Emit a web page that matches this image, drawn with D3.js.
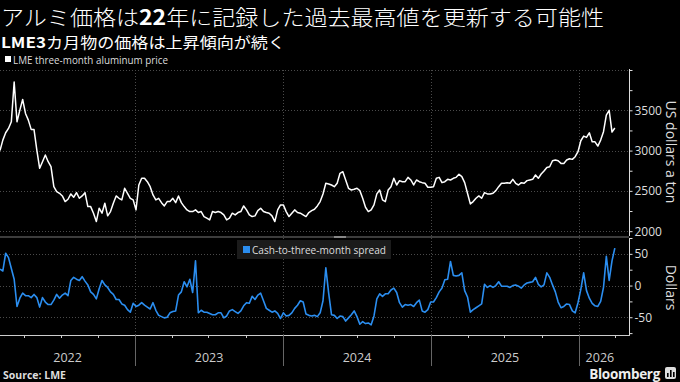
<!DOCTYPE html>
<html>
<head>
<meta charset="utf-8">
<script src="https://cdn.jsdelivr.net/npm/d3@7"></script>
<style>
html,body{margin:0;padding:0;background:#000;}
svg{display:block;}
</style>
</head>
<body>
<div id="chart"></div>
<script>
// ---------- DATA ----------
const titleParts = [["アルミ価格は", false], ["22", true], ["年に記録した過去最高値を更新する可能性", false]];
const subtitleParts = [["LME3", true], ["カ月物の価格は上昇傾向が続く", false]];
const priceLabel = "LME three-month aluminum price";
const spreadLabel = "Cash-to-three-month spread";
const priceAxisTitle = "US dollars a ton";
const spreadAxisTitle = "Dollars";
const sourceText = "Source: LME";
const years = [2022, 2023, 2024, 2025, 2026];
const priceTicks = [2000, 2500, 3000, 3500];
const spreadTicks = [-50, 0, 50];
const startDate = "2022-02-01"; // first weekly observation

// LME three-month aluminum price (weekly, USD/t)
const priceValues = [
3000,3130,3221,3275,3357,3850,3357,3502,3634,3461,3378,3263,3263,3006,2780,2862,2945,2862,2800,2552,
2490,2470,2437,2367,2396,2462,2421,2478,2408,2437,2478,2305,2305,2223,2119,2285,2223,2347,2190,2243,
2347,2437,2408,2388,2532,2470,2408,2388,2264,2573,2656,2656,2614,2552,2449,2388,2408,2354,2313,2367,
2367,2408,2354,2437,2354,2305,2264,2243,2243,2264,2231,2243,2181,2161,2140,2243,2231,2243,2231,2202,
2140,2161,2223,2202,2231,2243,2313,2264,2202,2181,2190,2255,2285,2243,2231,2223,2190,2119,2264,2326,
2326,2243,2181,2223,2264,2231,2223,2202,2181,2231,2255,2272,2313,2367,2462,2594,2586,2573,2552,2594,
2718,2738,2635,2532,2511,2520,2532,2503,2408,2297,2243,2264,2326,2462,2511,2388,2367,2511,2552,2656,
2573,2627,2614,2614,2668,2635,2573,2635,2614,2602,2594,2545,2545,2552,2656,2668,2602,2614,2643,2635,
2656,2668,2706,2676,2602,2470,2338,2367,2408,2437,2408,2478,2462,2462,2470,2503,2552,2594,2594,2602,
2594,2643,2594,2573,2602,2594,2627,2635,2643,2697,2656,2709,2746,2791,2800,2874,2883,2874,2841,2841,
2883,2899,2891,2924,2986,3122,3180,3163,3221,3109,3109,3056,3130,3234,3440,3500,3230,3280
];

// Cash-to-three-month spread (weekly, USD)
const spreadValues = [
26,23,51,44,27,10,-33,-20,-12,-16,-16,-19,-14,-19,-34,-19,-26,-30,-30,-23,
-14,-20,-15,-12,-16,8,13,10,8,14,7,1,-10,-14,-21,-5,8,1,-3,-10,
-14,-22,-22,-29,-31,-38,-42,-28,-33,-31,-27,-31,-34,-37,-27,-39,-47,-49,-51,-50,
-43,-41,-40,-15,-10,6,-2,10,-11,39,-43,-39,-42,-42,-44,-46,-46,-43,-43,-51,
-48,-40,-38,-41,-44,-40,-32,-27,-28,-17,-22,-15,-12,-24,-36,-39,-42,-40,-44,-52,
-43,-48,-47,-43,-36,-31,-24,-26,-45,-47,-48,-47,-49,-43,-24,28,-12,-46,-47,-52,
-48,-49,-56,-51,-46,-40,-49,-61,-57,-60,-59,-62,-48,-21,-13,-17,-13,-13,-7,-4,
-11,-27,-34,-30,-31,-30,-33,-27,-23,-40,-42,-38,-26,-26,-19,-10,-4,9,10,38,
16,15,16,20,-8,-18,-42,-38,-35,-32,-29,2,-3,0,-3,0,6,-1,-1,-1,
-3,0,1,-1,-4,1,4,5,6,13,2,-2,1,20,13,1,-10,-26,-35,-33,
-29,-30,-40,-43,-27,-6,20,-8,-20,-28,-32,-33,-25,-3,46,8,39,59
];

// ---------- LAYOUT ----------
const W = 680, H = 382;
const plotRight = 629;
const topPanel = {y0: 70, y1: 236};
const botPanel = {y0: 238, y1: 335};
const blue = "#2b8ef0";
const font = "'Open Sans', 'Noto Sans', sans-serif";
const cjk = "'Noto Sans CJK JP', 'Noto Sans', sans-serif";

const parse = d3.timeParse("%Y-%m-%d");
const t0 = parse(startDate);
const dates = priceValues.map((_, i) => d3.timeDay.offset(t0, 7 * i));
const priceData = dates.map((d, i) => ({date: d, value: priceValues[i]}));
const spreadData = dates.map((d, i) => ({date: d, value: spreadValues[i]}));

const x = d3.scaleTime()
  .domain([t0, new Date(2026, 4, 5)])
  .range([0, plotRight]);
const yP = d3.scaleLinear().domain([1940, 4000]).range([topPanel.y1, topPanel.y0]);
const yS = d3.scaleLinear().domain([-78, 75]).range([botPanel.y1, botPanel.y0]);

const svg = d3.select("#chart").append("svg")
  .attr("width", W).attr("height", H)
  .style("background", "#000");

// ---------- TITLES ----------
const title = svg.append("text")
  .attr("x", 1).attr("y", 25)
  .attr("fill", "#fff")
  .attr("font-family", cjk)
  .attr("font-size", 21)
  .attr("textLength", 603).attr("lengthAdjust", "spacingAndGlyphs");
titleParts.forEach(([t, b]) => title.append("tspan").attr("font-weight", b ? 700 : 300).text(t));

const sub = svg.append("text")
  .attr("x", 1).attr("y", 48)
  .attr("fill", "#fff")
  .attr("font-family", cjk)
  .attr("font-size", 15)
  .attr("textLength", 284).attr("lengthAdjust", "spacingAndGlyphs");
subtitleParts.forEach(([t, b]) => sub.append("tspan").attr("font-weight", b ? 700 : 400).text(t));

// legend (price)
svg.append("rect").attr("x", 5).attr("y", 56).attr("width", 6).attr("height", 6).attr("fill", "#fff");
svg.append("text").attr("x", 13).attr("y", 63.5)
  .attr("fill", "#ddd").attr("font-family", font).attr("font-size", 10)
  .attr("textLength", 155).attr("lengthAdjust", "spacingAndGlyphs")
  .text(priceLabel);

// ---------- GRID ----------
const grid = svg.append("g").attr("stroke", "#4a4a4a").attr("stroke-width", 1).attr("stroke-dasharray", "1,2");
[2000, 2500, 3000, 3500, 4000].forEach(v => {
  grid.append("line").attr("x1", 0).attr("x2", plotRight).attr("y1", Math.round(yP(v)) + 0.5).attr("y2", Math.round(yP(v)) + 0.5);
});
spreadTicks.forEach(v => {
  grid.append("line").attr("x1", 0).attr("x2", plotRight).attr("y1", Math.round(yS(v)) + 0.5).attr("y2", Math.round(yS(v)) + 0.5);
});
years.slice(1).forEach(yr => {
  const xx = Math.round(x(new Date(yr, 0, 1))) + 0.5;
  grid.append("line").attr("x1", xx).attr("x2", xx).attr("y1", topPanel.y0).attr("y2", topPanel.y1);
  grid.append("line").attr("x1", xx).attr("x2", xx).attr("y1", botPanel.y0).attr("y2", botPanel.y1);
});

// panel separator
svg.append("rect").attr("x", 0).attr("y", 236).attr("width", plotRight).attr("height", 2).attr("fill", "#3c3c3c");
svg.append("rect").attr("x", 334).attr("y", 236).attr("width", 12).attr("height", 2).attr("fill", "#888");

// ---------- LINES ----------
const clipId = "plotclip";
svg.append("defs").append("clipPath").attr("id", clipId)
  .append("rect").attr("x", 0).attr("y", 0).attr("width", plotRight).attr("height", H);

svg.append("path")
  .datum(priceData)
  .attr("clip-path", `url(#${clipId})`)
  .attr("fill", "none").attr("stroke", "#fff").attr("stroke-width", 1.5).attr("stroke-linejoin", "round")
  .attr("d", d3.line().x(d => x(d.date)).y(d => yP(d.value)));

svg.append("path")
  .datum(spreadData)
  .attr("clip-path", `url(#${clipId})`)
  .attr("fill", "none").attr("stroke", blue).attr("stroke-width", 1.6).attr("stroke-linejoin", "round")
  .attr("d", d3.line().x(d => x(d.date)).y(d => yS(d.value)));

// legend (spread)
svg.append("rect").attr("x", 237).attr("y", 240).attr("width", 154).attr("height", 19).attr("fill", "#1b1b1b");
svg.append("rect").attr("x", 243).attr("y", 246).attr("width", 7).attr("height", 7).attr("fill", blue);
svg.append("text").attr("x", 252).attr("y", 254)
  .attr("fill", "#ddd").attr("font-family", font).attr("font-size", 11)
  .attr("textLength", 134).attr("lengthAdjust", "spacingAndGlyphs")
  .text(spreadLabel);

// ---------- Y AXES ----------
function styleAxis(g) {
  g.selectAll("path.domain").attr("stroke", "#ddd").attr("stroke-width", 1);
  g.selectAll(".tick line").attr("stroke", "#ddd");
  g.selectAll(".tick text").attr("fill", "#ddd").attr("font-family", font).attr("font-size", 12)
    .attr("x", 5);
}
const pMinor = d3.range(2000, 4001, 250);
const gP = svg.append("g").attr("transform", `translate(${plotRight + 0.5},0)`)
  .call(d3.axisRight(yP).tickValues(pMinor).tickSize(3).tickSizeOuter(0)
    .tickFormat(v => priceTicks.includes(v) ? d3.format("d")(v) : ""));
styleAxis(gP);
gP.select("path.domain").attr("d", `M0,${topPanel.y0 - 1}V${topPanel.y1}`);

const sMinor = [-75, -50, -25, 0, 25, 50, 75];
const gS = svg.append("g").attr("transform", `translate(${plotRight + 0.5},0)`)
  .call(d3.axisRight(yS).tickValues(sMinor).tickSize(3).tickSizeOuter(0)
    .tickFormat(v => spreadTicks.includes(v) ? (v < 0 ? "-" + Math.abs(v) : String(v)) : ""));
styleAxis(gS);
gS.select("path.domain").attr("d", `M0,${botPanel.y0}V${botPanel.y1}`);

svg.append("text")
  .attr("transform", `translate(666,${(topPanel.y0 + topPanel.y1) / 2 - 1}) rotate(90)`)
  .attr("text-anchor", "middle").attr("fill", "#ddd")
  .attr("font-family", font).attr("font-size", 14)
  .text(priceAxisTitle);
svg.append("text")
  .attr("transform", `translate(666,${yS(0) + 2}) rotate(90)`)
  .attr("text-anchor", "middle").attr("fill", "#ddd")
  .attr("font-family", font).attr("font-size", 14)
  .text(spreadAxisTitle);

// ---------- X AXIS ----------
const xa = svg.append("g");
xa.append("line").attr("x1", 0).attr("x2", plotRight + 1).attr("y1", botPanel.y1 + 0.5).attr("y2", botPanel.y1 + 0.5)
  .attr("stroke", "#ccc");
const quarterTicks = d3.timeMonth.every(3).range(x.domain()[0], x.domain()[1]).filter(d => d.getMonth() !== 0);
xa.selectAll("line.q").data(quarterTicks).join("line")
  .attr("x1", d => Math.round(x(d)) + 0.5).attr("x2", d => Math.round(x(d)) + 0.5)
  .attr("y1", botPanel.y1).attr("y2", botPanel.y1 + 3).attr("stroke", "#ccc");
years.slice(1).forEach(yr => {
  const xx = Math.round(x(new Date(yr, 0, 1))) + 0.5;
  xa.append("line").attr("x1", xx).attr("x2", xx).attr("y1", botPanel.y1).attr("y2", 366).attr("stroke", "#666");
});
const [d0, d1] = x.domain();
years.forEach(yr => {
  const a = Math.max(x(new Date(yr, 0, 1)), x(d0));
  const b = Math.min(x(new Date(yr + 1, 0, 1)), x(d1));
  xa.append("text").attr("x", (a + b) / 2 - (yr === 2026 ? 4 : 0)).attr("y", 362)
    .attr("text-anchor", "middle").attr("fill", "#ccc")
    .attr("font-family", font).attr("font-size", 12.5)
    .text(yr);
});

// ---------- FOOTER ----------
svg.append("text").attr("x", 3).attr("y", 379)
  .attr("fill", "#ddd").attr("font-family", font).attr("font-size", 10.5).attr("font-weight", 700)
  .text(sourceText);
svg.append("text").attr("x", 660).attr("y", 379)
  .attr("text-anchor", "end").attr("fill", "#eee").attr("font-family", font).attr("font-size", 13.5).attr("font-weight", 700)
  .attr("letter-spacing", -0.3)
  .text("Bloomberg");
const logo = svg.append("g").attr("transform", "translate(665,367)");
logo.append("rect").attr("width", 11).attr("height", 12).attr("rx", 2).attr("fill", "#ddd");
[[2, 6, 4], [5, 3, 7], [8, 5, 5]].forEach(([bx, by, bh]) =>
  logo.append("rect").attr("x", bx).attr("y", by).attr("width", 1.6).attr("height", bh).attr("fill", "#000"));
</script>
</body>
</html>
